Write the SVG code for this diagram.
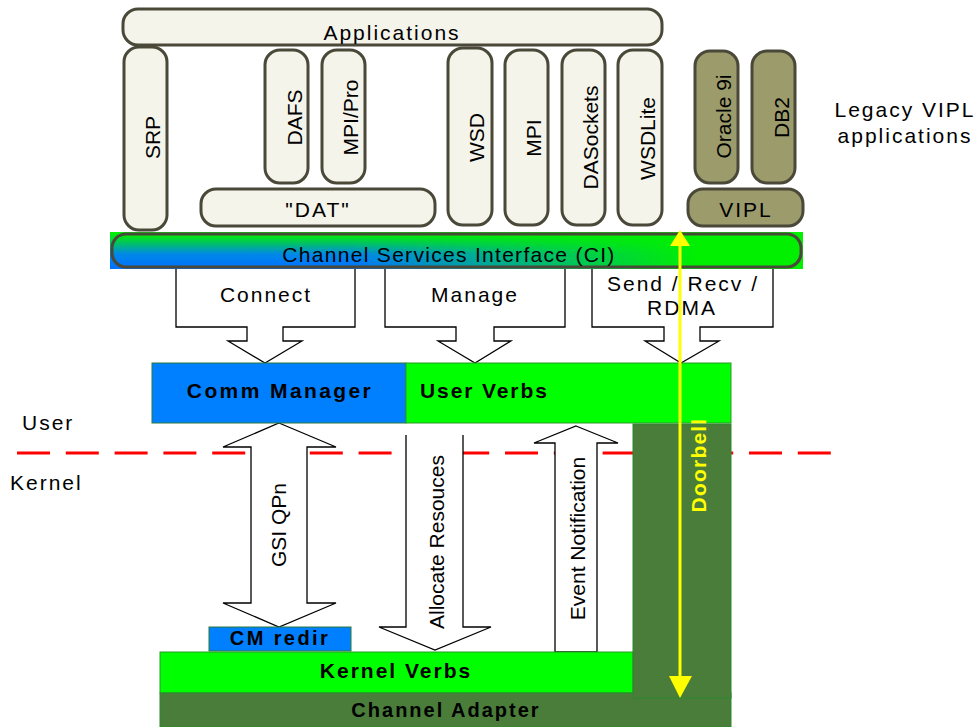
<svg xmlns="http://www.w3.org/2000/svg" width="979" height="727" viewBox="0 0 979 727">
<defs>
<style>
.pill{fill:#f4f4ea;stroke:#4a4939;stroke-width:3}
.olive{fill:#9c9b6b;stroke:#4a4939;stroke-width:3}
.t{font-family:"Liberation Sans",Arial,sans-serif;font-size:21px;fill:#000}
.sp{letter-spacing:2px}
.b{font-weight:bold}
.m{text-anchor:middle}
.arrow{fill:#fff;stroke:#000;stroke-width:1.3;stroke-linejoin:miter}
.blue{fill:#0080ff;stroke:#2a7a3a;stroke-width:1}
.green{fill:#00ff00;stroke:#2a9a2a;stroke-width:1}
.dark{fill:#4a7d3a;stroke:#2a8a2a;stroke-width:1}
</style>
<linearGradient id="gv" x1="0" y1="0" x2="0" y2="1">
<stop offset="0" stop-color="#00f000"/>
<stop offset="0.15" stop-color="#00e020"/>
<stop offset="0.6" stop-color="#0088e8"/>
<stop offset="1" stop-color="#0070ff"/>
</linearGradient>
<linearGradient id="gh" x1="0" y1="0" x2="1" y2="0">
<stop offset="0.35" stop-color="#00f000" stop-opacity="0"/>
<stop offset="0.85" stop-color="#00f000" stop-opacity="1"/>
</linearGradient>
</defs>
<rect width="979" height="727" fill="#fff"/>

<!-- user/kernel line -->
<line x1="17" y1="453" x2="834" y2="453" stroke="#ff0000" stroke-width="3" stroke-dasharray="33 15.8"/>

<g id="applications"><rect class="pill" x="123" y="9" width="539" height="36" rx="15"/><text class="t sp m" x="392" y="40">Applications</text></g>
<g id="srp"><rect class="pill" x="124" y="47" width="43" height="183" rx="15"/><text class="t m" transform="translate(160,137.5) rotate(-90)">SRP</text></g>
<g id="dafs"><rect class="pill" x="265" y="50" width="43" height="133" rx="15"/><text class="t m" transform="translate(302,117.5) rotate(-90)">DAFS</text></g>
<g id="mpipro"><rect class="pill" x="322" y="50" width="43" height="133" rx="15"/><text class="t m" transform="translate(358,117.5) rotate(-90)">MPI/Pro</text></g>
<g id="dat"><rect class="pill" x="201" y="189" width="234" height="37" rx="15"/><text class="t sp m" x="318" y="217">"DAT"</text></g>
<g id="wsd"><rect class="pill" x="448" y="48" width="44" height="177" rx="15"/><text class="t m" transform="translate(484,137.5) rotate(-90)">WSD</text></g>
<g id="mpi"><rect class="pill" x="505" y="50" width="43" height="175" rx="15"/><text class="t m" transform="translate(541,138) rotate(-90)">MPI</text></g>
<g id="dasockets"><rect class="pill" x="562" y="50" width="43" height="175" rx="15"/><text class="t m" transform="translate(598,137.5) rotate(-90)">DASockets</text></g>
<g id="wsdlite"><rect class="pill" x="618" y="50" width="44" height="175" rx="15"/><text class="t m" transform="translate(655,138.5) rotate(-90)">WSDLite</text></g>
<g id="oracle"><rect class="olive" x="695" y="51" width="43" height="132" rx="15"/><text class="t m" transform="translate(731,116.5) rotate(-90)">Oracle 9i</text></g>
<g id="db2"><rect class="olive" x="752" y="51" width="43" height="132" rx="15"/><text class="t m" transform="translate(789,117.5) rotate(-90)">DB2</text></g>
<g id="vipl"><rect class="olive" x="688" y="189" width="115" height="37" rx="15"/><text class="t sp m" x="746" y="217">VIPL</text></g>
<g id="legacy"><text class="t sp m" x="905" y="117">Legacy VIPL</text><text class="t sp m" x="905" y="143">applications</text></g>

<g id="connectors">
<polygon class="arrow" points="176,266 355,266 355,327 283,327 283,341 302,341 265,363 228,341 247,341 247,327 176,327"/>
<polygon class="arrow" points="385,266 565,266 565,327 494,327 494,341 511,341 475,363 438,341 456,341 456,327 385,327"/>
<polygon class="arrow" points="592,266 773,266 773,327 700,327 700,341 719,341 681,363 645,341 664,341 664,327 592,327"/>
<polygon class="arrow" points="279,423 336,447 307,447 307,603 336,603 279,627 223,603 251,603 251,447 223,447"/>
<polygon points="406,435 463,435 463,627 491,627 435,650 379,627 406,627" fill="#fff"/>
<path class="arrow" fill="none" d="M406,435 V627 H379 L435,650 L491,627 H463 V435"/>
<polygon class="arrow" points="576,426 618,443 597,443 597,652 555,652 555,443 534,443"/>
<text class="t m" transform="translate(286,525) rotate(-90)">GSI QPn</text>
<text class="t m" transform="translate(444,542) rotate(-90)">Allocate Resouces</text>
<text class="t m" transform="translate(585,538.5) rotate(-90)">Event Notification</text>
</g>

<g id="ci">
<rect x="110" y="232" width="693" height="37" fill="url(#gv)"/>
<rect x="110" y="232" width="693" height="37" fill="url(#gh)"/>
<rect x="112" y="234" width="689" height="33" rx="14" fill="none" stroke="#4a4939" stroke-width="3"/>
<text class="t m" style="letter-spacing:1.3px" x="449" y="262">Channel Services Interface (CI)</text>
</g>

<g id="connect-label"><text class="t sp m" x="266" y="302">Connect</text></g>
<g id="manage-label"><text class="t sp m" x="475" y="302">Manage</text></g>
<g id="send-label"><text class="t sp m" x="683" y="291">Send / Recv /</text><text class="t sp m" x="682" y="315">RDMA</text></g>

<g id="comm-manager"><rect class="blue" x="152" y="363" width="254" height="60"/><text class="t b m" style="letter-spacing:2.4px" x="280" y="398">Comm Manager</text></g>
<g id="user-verbs"><rect class="green" x="406" y="363" width="325" height="60"/><text class="t b" style="letter-spacing:1.9px" x="420" y="398">User Verbs</text></g>

<g id="labels"><text class="t sp" x="22" y="430">User</text><text class="t sp" x="10" y="490">Kernel</text></g>

<g id="cm-redir"><rect class="blue" x="209" y="627" width="142" height="24"/><text class="t b m" style="font-size:20px;letter-spacing:2.4px" x="280" y="645">CM redir</text></g>
<g id="kernel-verbs"><rect class="green" x="160" y="652" width="473" height="41"/><text class="t b m" style="letter-spacing:2px" x="396" y="678">Kernel Verbs</text></g>
<g id="channel-adapter"><rect class="dark" x="160" y="693" width="571" height="34"/><text class="t b m" style="font-size:20px;letter-spacing:2px" x="446" y="717">Channel Adapter</text></g>
<g id="doorbell-column"><rect class="dark" x="633" y="424" width="98" height="274"/></g>

<g id="doorbell">
<line x1="680" y1="244" x2="680" y2="678" stroke="#ffff00" stroke-width="3"/>
<polygon points="680,230 670,246 690,246" fill="#ffff00"/>
<polygon points="669,676 692,676 680,698" fill="#ffff00"/>
<text class="t b m" style="fill:#ffff00;letter-spacing:1.2px" transform="translate(706,465) rotate(-90)">Doorbell</text>
</g>
</svg>
